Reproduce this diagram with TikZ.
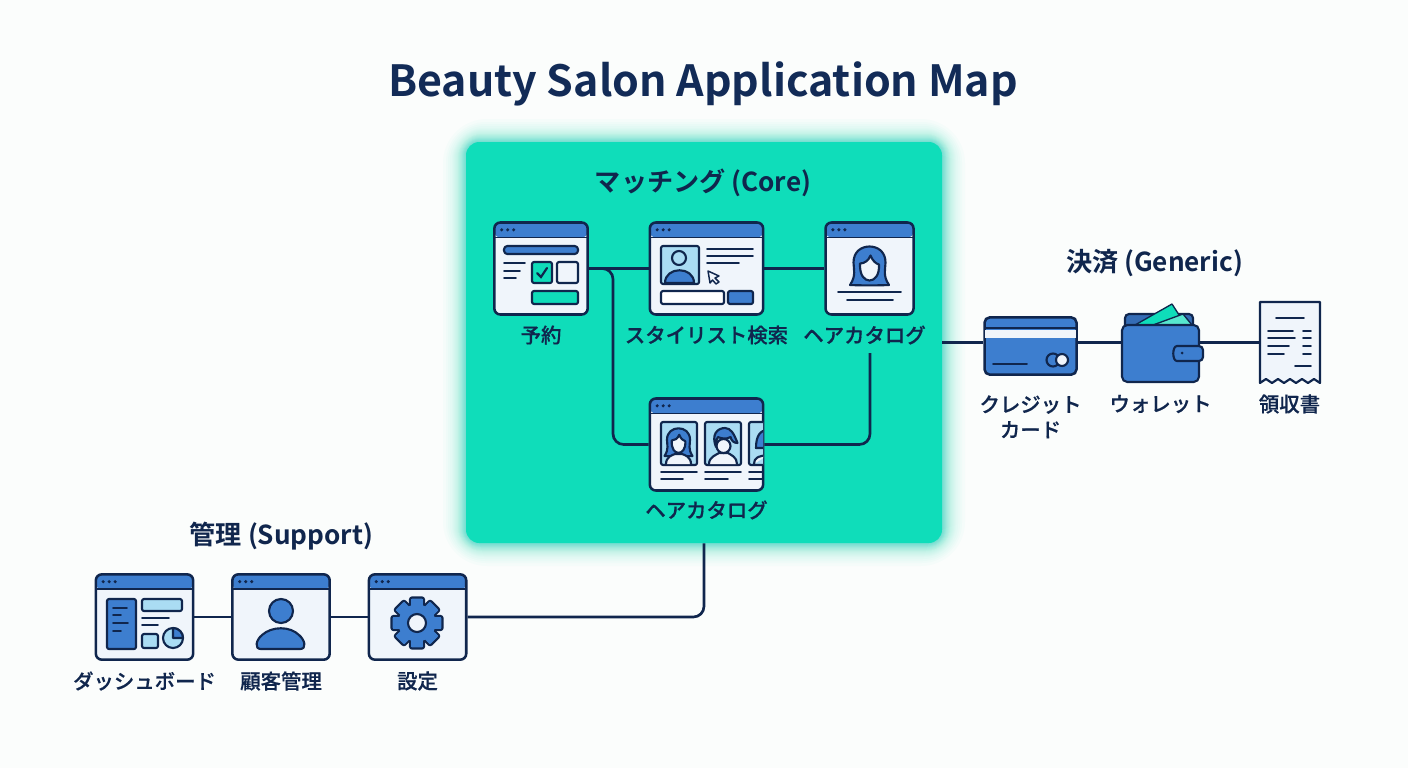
\documentclass[tikz,border=0pt]{standalone}
\usepackage{fontspec}
\usepackage{xcolor}
\setmainfont{Noto Sans CJK JP}[UprightFont=* Medium, FakeBold=0.5]
\newfontfamily\boldfont{Noto Sans CJK JP}[UprightFont=* Bold]
\usetikzlibrary{arrows,positioning,shapes}

\definecolor{navy}{HTML}{10264D}
\definecolor{titleblue}{HTML}{122B57}
\definecolor{barblue}{HTML}{3D7ECF}
\definecolor{lightblue}{HTML}{AADCF3}
\definecolor{winfill}{HTML}{F0F5FB}
\definecolor{coregreen}{HTML}{0FDDBA}
\definecolor{paper}{HTML}{FBFDFC}

% one unit is one pixel of the reference, y runs down
\newcommand{\ladyhead}{
    \draw [iconline, fill=barblue] (-19.5,19.5) .. controls (-13,10) and (-16,3) .. (-16,-3) .. controls (-16,-14) and (-8,-19) .. (0,-19) .. controls (8,-19) and (16,-14) .. (16,-3) .. controls (16,3) and (13,10) .. (19.5,19.5) .. controls (8,20) and (-8,20) .. cycle;
    \draw [iconline, fill=winfill] (-9.5,-2) .. controls (-5,-2) and (-1,-5) .. (1,-10) .. controls (3,-5) and (6,-2) .. (9.5,-1) .. controls (10,10) and (5,15) .. (0,15) .. controls (-5,15) and (-10,10) .. cycle;
}

\begin{document}
\begin{tikzpicture}[x=0.75pt, y=-0.75pt, node distance=100pt]
    \tikzstyle{window} = [rectangle, draw=navy, line width=1.9pt, fill=winfill, rounded corners=4.5pt, inner sep=0pt, minimum height=69pt,
        path picture={
            \fill [barblue] (path picture bounding box.north west) rectangle ([yshift=-11.25pt]path picture bounding box.north east);
            \draw [navy, line width=1.4pt] ([yshift=-11.25pt]path picture bounding box.north west) -- ([yshift=-11.25pt]path picture bounding box.north east);
            \foreach \d in {5.5,10,14.5} \fill [navy] ([xshift=\d pt, yshift=-5.5pt]path picture bounding box.north west) circle (1.3pt);
        }]
    \tikzstyle{label} = [text=navy, font=\fontsize{15.3}{19}\selectfont, align=center, inner sep=0pt]
    \tikzstyle{heading} = [text=navy, font=\boldfont\fontsize{19.6}{23}\selectfont, inner sep=0pt]
    \tikzstyle{conn} = [draw=navy, line width=2pt, rounded corners=8pt]
    \tikzstyle{iconline} = [draw=navy, line width=1.6pt, line join=round, line cap=round]
    \tikzstyle{iconbox} = [iconline, rounded corners=1.5pt]
    \tikzstyle{rule} = [draw=navy, line width=1.4pt, line cap=round]

    \fill [paper] (0,0) rectangle (1408,768);
    \useasboundingbox (0,0) rectangle (1408,768);
    \node [text=titleblue, font=\boldfont\fontsize{32.2}{38}\selectfont, inner sep=0pt] (title) at (703,84) {Beauty Salon Application Map};

    % glow round the core group
    \foreach \g in {1,1,1,2,2,2,3,3,3,4,4,4,5,5,6,6,7,7,8,8,9,10,11,12,13,14,16,18,20,23}
        \fill [coregreen, opacity=0.025, rounded corners={(10+\g)*1pt}] ({466-\g},{142-\g}) rectangle ({942+\g},{543+\g});
    \node [rectangle, fill=coregreen, rounded corners=10pt, minimum width=357pt, minimum height=300.75pt, inner sep=0pt] (core) at (704,342.5) {};
    \node [heading] (coretitle) at (703,183) {マッチング (Core)};

    % core windows
    \node [window, minimum width=70pt] (book) at (541,268.5) {};
    \node [window, minimum width=85pt, right of=book, node distance=124.1pt] (stylist) {};
    \node [window, minimum width=66pt, right of=stylist, node distance=122.3pt] (hair) {};
    \node [window, minimum width=85pt, below of=stylist, node distance=132pt] (gallery) {};
    \node [label, below of=book, node distance=49.9pt] (booklabel) {予約};
    \node [label, below of=stylist, node distance=49.9pt] (stylistlabel) {スタイリスト検索};
    \node [label, below of=hair, node distance=49.9pt, xshift=-3.75pt] (hairlabel) {ヘアカタログ};
    \node [label, below of=gallery, node distance=49.1pt] (gallerylabel) {ヘアカタログ};

    % payment group
    \node [heading] (paytitle) at (1154.5,263) {決済 (Generic)};
    \node [rectangle, draw=navy, line width=1.9pt, fill=barblue, rounded corners=4pt, minimum width=69pt, minimum height=43pt, inner sep=0pt] (card) at (1030.5,346) {};
    \node [rectangle, minimum width=58pt, minimum height=43pt, inner sep=0pt] (wallet) at (1160.5,353.5) {};
    \node [rectangle, minimum width=46pt, minimum height=61pt, inner sep=0pt] (receipt) at (1289.5,342.5) {};
    \node [label, below of=card, node distance=53.2pt] (cardlabel) {クレジット\\カード};
    \node [label, below of=wallet, node distance=37.9pt] (walletlabel) {ウォレット};
    \node [label, below of=receipt, node distance=46.1pt] (receiptlabel) {領収書};

    % support group
    \node [heading] (suptitle) at (281.5,536) {管理 (Support)};
    \node [window, minimum width=73pt, minimum height=64pt] (dash) at (144.5,617) {};
    \node [window, minimum width=73pt, minimum height=64pt, right of=dash, node distance=102.4pt] (client) {};
    \node [window, minimum width=73pt, minimum height=64pt, right of=client, node distance=102.4pt] (settings) {};
    \node [label, below of=dash, node distance=48pt] (dashlabel) {ダッシュボード};
    \node [label, below of=client, node distance=48pt] (clientlabel) {顧客管理};
    \node [label, below of=settings, node distance=48pt] (settingslabel) {設定};

    % connectors
    \coordinate (turn) at (613,360);
    \coordinate (hairend) at (870,353);
    \draw [conn] (book) -- (stylist);
    \draw [conn] (stylist) -- (hair);
    \draw [conn] (book.east) -| (turn) |- (gallery.west);
    \draw [conn] (hairend) |- (gallery.east);
    \draw [conn] (core.east |- receipt.west) -- (card.west |- receipt.west);
    \draw [conn] (card.east |- receipt.west) -- (wallet.west |- receipt.west);
    \draw [conn] (wallet.east |- receipt.west) -- (receipt.west);
    \draw [conn] (dash) -- (client);
    \draw [conn] (client) -- (settings);
    \draw [conn] (core.south) |- (settings.east);

    % icon of the booking window
    \draw [iconbox, fill=barblue, rounded corners=2.5pt] (504,246) rectangle (578,254);
    \draw [rule] (504,263) -- (525,263) (504,271) -- (520,271) (504,278) -- (516,278);
    \draw [iconbox, fill=coregreen] (532,262) rectangle (552,283);
    \draw [rule, line width=1.6pt] (537,273) -- (541,277) -- (547,268);
    \draw [iconbox, fill=winfill] (557,262) rectangle (578,283);
    \draw [iconbox, fill=coregreen] (532,291) rectangle (578,304);

    % icon of the stylist window
    \draw [iconbox, fill=lightblue] (661,246) rectangle (699,284);
    \draw [iconline, fill=barblue] (665,283) .. controls (665,266) and (694,266) .. (694,283) -- cycle;
    \draw [iconline, fill=lightblue] (679,258) circle (7);
    \draw [rule] (707,249) -- (753,249) (707,256) -- (753,256) (707,263) -- (739,263);
    \draw [iconline, line width=1.1pt, fill=winfill] (708,271) -- (719,276) -- (715,278) -- (719,282) -- (716,284) -- (712.5,280) -- (710,283) -- cycle;
    \draw [iconbox, fill=white] (661,291) rectangle (724,304);
    \draw [iconbox, fill=barblue] (728,291) rectangle (753,304);

    % icon of the hair window
    \begin{scope}[shift={(869.5,265.5)}]
        \ladyhead
    \end{scope}
    \draw [rule] (838,292) -- (901,292) (847,300) -- (893,300);

    % icon of the gallery window
    \draw [iconbox, fill=lightblue] (661,422) rectangle (697,465);
    \begin{scope}[shift={(678.5,442)}, scale=0.72]
        \ladyhead
    \end{scope}
    \draw [iconline, fill=winfill] (666,464) .. controls (666,457) and (672,455) .. (675,454) -- (682,454) .. controls (685,455) and (691,457) .. (691,464);
    \draw [iconbox, fill=lightblue] (705,422) rectangle (741,465);
    \draw [iconline, fill=winfill] (709,464) .. controls (709,457) and (716,455) .. (719,453) -- (728,453) .. controls (731,455) and (737,457) .. (737,464);
    \draw [iconline, fill=winfill] (723.5,446) circle (7);
    \draw [iconline, fill=barblue] (716,447) .. controls (711,435) and (717,428) .. (725,428) .. controls (731,428) and (734,434) .. (737.5,443) .. controls (734,443) and (731.5,441) .. (730.5,437) .. controls (726,440) and (720,438) .. (718,437) .. controls (716,440) and (716,444) .. (716,447) -- cycle;
    \begin{scope}
        \clip (745,415) rectangle (763,488);
        \draw [iconbox, fill=lightblue] (749,422) rectangle (780,465);
        \draw [iconline, fill=barblue] (756,448) .. controls (756,436) and (760,430) .. (768,430) -- (768,448) -- cycle;
        \draw [iconline, fill=winfill] (754,464) .. controls (754,458) and (758,456) .. (768,455);
        \draw [rule] (749,472) -- (770,472) (749,479) -- (770,479);
    \end{scope}
    \draw [rule] (661,472) -- (697,472) (661,479) -- (683,479) (705,472) -- (741,472) (705,479) -- (728,479);

    % icon of the card
    \fill [navy] (984,327) rectangle (1077,329);
    \fill [winfill] (985,330) rectangle (1076,338);
    \draw [rule] (993,364) -- (1027,364);
    \draw [iconline, fill=barblue] (1053,360) circle (6.5);
    \draw [iconline, fill=winfill] (1062,360) circle (6);

    % icon of the wallet
    \draw [iconbox, fill=barblue!80!navy, rounded corners=3pt] (1125,330) -- (1125,314) -- (1193,314) -- (1193,330);
    \draw [iconline, line width=1pt, fill=coregreen] (1135,325) -- (1172,304) -- (1181,318) -- (1165,325) -- cycle;
    \draw [iconline, line width=1pt, fill=coregreen!70!white] (1153,325) -- (1183,314) -- (1192,325) -- cycle;
    \draw [iconline, fill=barblue, rounded corners=4pt] (1122,325) rectangle (1199,382);
    \draw [iconline, fill=barblue, rounded corners=3pt] (1203,346) -- (1181,346) .. controls (1172,346) and (1172,361) .. (1181,361) -- (1203,361) -- cycle;
    \fill [navy] (1182,353) circle (1.5);

    % icon of the receipt
    \draw [iconline, fill=winfill] (1260,383) -- (1260,302) -- (1320,302) -- (1320,383) -- (1314,379) -- (1308,383) -- (1302,379) -- (1296,383) -- (1290,379) -- (1284,383) -- (1278,379) -- (1272,383) -- (1266,379) -- cycle;
    \draw [rule, line width=1.2pt] (1276,318) -- (1304,318) (1268,331) -- (1293,331) (1268,338) -- (1295,338) (1268,346) -- (1289,346) (1268,354) -- (1284,354) (1303,331) -- (1311,331) (1303,338) -- (1311,338) (1303,346) -- (1311,346) (1303,354) -- (1311,354) (1295,366) -- (1311,366);

    % icon of the dashboard window
    \draw [iconbox, fill=barblue] (107,599) rectangle (136,649);
    \draw [rule, line width=1.2pt] (113,608) -- (127,608) (113,615) -- (121,615) (113,623) -- (128,623) (113,631) -- (121,631);
    \draw [iconbox, fill=lightblue] (142,599) rectangle (182,611);
    \draw [rule, line width=1.2pt] (142,618) -- (169,618) (142,625) -- (158,625);
    \draw [iconbox, fill=lightblue] (142,634) rectangle (158,648);
    \draw [iconline, fill=lightblue] (173,638) circle (10);
    \draw [iconline, fill=barblue] (173,638) -- (173,628) .. controls (179,628) and (183,633) .. (183,638) -- cycle;

    % icon of the client window
    \draw [iconline, fill=barblue] (281,611) circle (12);
    \draw [iconline, fill=barblue] (261,649) .. controls (254,649) and (256,640) .. (262,635) .. controls (272,626) and (290,626) .. (299,635) .. controls (305,640) and (307,649) .. (300,649) -- cycle;

    % icon of the settings window
    \foreach \a in {0,45,...,315}
        \draw [iconline, fill=barblue, rounded corners=1.5pt, rotate around={\a:(417,623)}] (410,597.5) rectangle (424,610);
    \draw [iconline, fill=barblue] (417,623) circle (19.5);
    \fill [barblue] (417,623) circle (18.5);
    \foreach \a in {0,45,...,315}
        \fill [barblue, rotate around={\a:(417,623)}] (411,599) rectangle (423,610);
    \draw [iconline, fill=winfill] (417,623) circle (9);
\end{tikzpicture}
\end{document}
